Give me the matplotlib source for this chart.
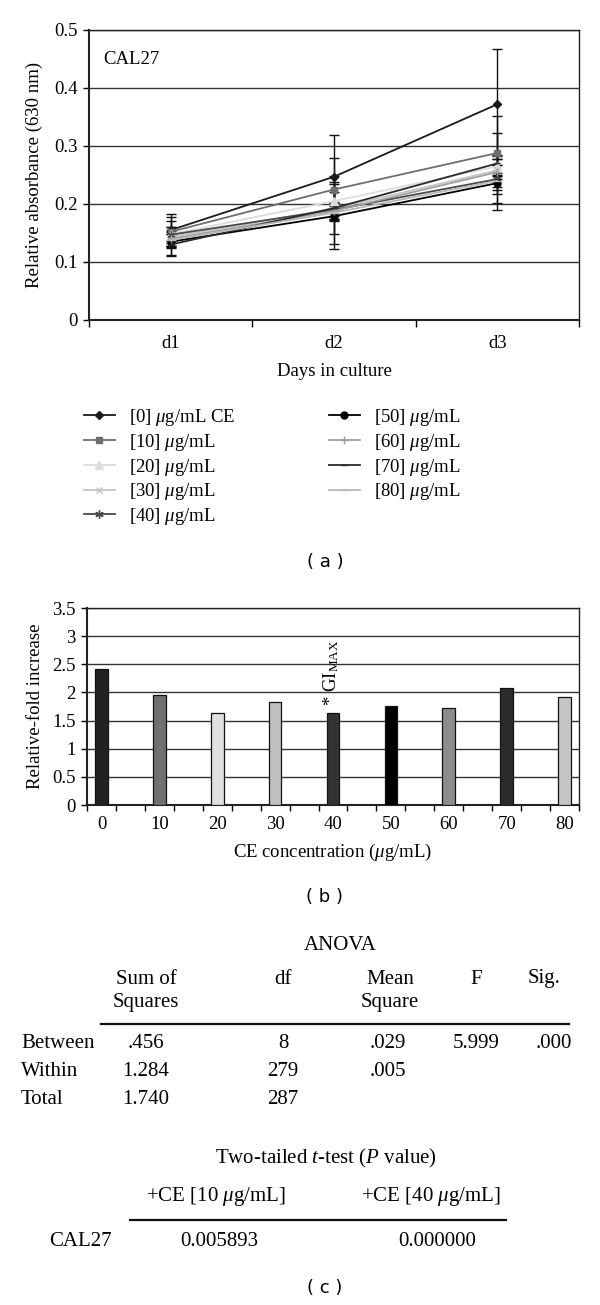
import matplotlib
matplotlib.use("Agg")
import matplotlib.pyplot as plt
from matplotlib.lines import Line2D
import numpy as np

plt.rcParams['font.family'] = ['Liberation Serif', 'DejaVu Serif']
plt.rcParams['mathtext.fontset'] = 'custom'
plt.rcParams['mathtext.rm'] = 'Liberation Serif'
plt.rcParams['mathtext.it'] = 'Liberation Serif:italic'

# Panel (a) data
days = ["d1", "d2", "d3"]
series_labels = ["[0] $\\mu$g/mL CE", "[10] $\\mu$g/mL", "[20] $\\mu$g/mL",
                 "[30] $\\mu$g/mL", "[40] $\\mu$g/mL", "[50] $\\mu$g/mL",
                 "[60] $\\mu$g/mL", "[70] $\\mu$g/mL", "[80] $\\mu$g/mL"]
abs_0 = [0.155, 0.247, 0.372]
abs_10 = [0.152, 0.225, 0.288]
abs_20 = [0.148, 0.205, 0.265]
abs_30 = [0.143, 0.192, 0.258]
abs_40 = [0.147, 0.190, 0.243]
abs_50 = [0.135, 0.179, 0.236]
abs_60 = [0.140, 0.188, 0.255]
abs_70 = [0.130, 0.193, 0.270]
abs_80 = [0.138, 0.185, 0.240]
err_0 = [0.027, 0.072, 0.095]
err_10 = [0.026, 0.054, 0.064]
err_20 = [0.012, 0.015, 0.012]
err_30 = [0.010, 0.012, 0.010]
err_40 = [0.023, 0.059, 0.042]
err_50 = [0.025, 0.056, 0.046]
err_60 = [0.012, 0.014, 0.012]
err_70 = [0.018, 0.045, 0.052]
err_80 = [0.010, 0.012, 0.010]

# Panel (b) data
concentrations = ["0", "10", "20", "30", "40", "50", "60", "70", "80"]
fold_increase = [2.42, 1.95, 1.64, 1.83, 1.63, 1.76, 1.72, 2.08, 1.91]

# Panel (c) data
anova_cols = ["Sum of\nSquares", "df", "Mean\nSquare", "F", "Sig."]
anova_rows = ["Between", "Within", "Total"]
anova_ss = [".456", "1.284", "1.740"]
anova_df = ["8", "279", "287"]
anova_ms = [".029", ".005", ""]
anova_f = ["5.999", "", ""]
anova_sig = [".000", "", ""]
ttest_cols = ["+CE [10 $\\mu$g/mL]", "+CE [40 $\\mu$g/mL]"]
ttest_row = "CAL27"
ttest_p = ["0.005893", "0.000000"]

W, H = 600, 1305
fig = plt.figure(figsize=(W / 100, H / 100), dpi=100)


def fx(px):
    return px / W


def fy(py):
    return 1 - py / H


# ---------- Panel (a) ----------
ax = fig.add_axes([fx(89), fy(320), fx(579) - fx(89), fy(30) - fy(320)])
series = [abs_0, abs_10, abs_20, abs_30, abs_40, abs_50, abs_60, abs_70, abs_80]
errs = [err_0, err_10, err_20, err_30, err_40, err_50, err_60, err_70, err_80]
colors = ["#1a1a1a", "#6e6e6e", "#dcdcdc", "#c4c4c4", "#4a4a4a",
          "#000000", "#a0a0a0", "#2a2a2a", "#b8b8b8"]
markers = ["D", "s", "^", "x", (6, 2, 0), "o", "+", "_", "_"]
msizes = [4, 5, 6, 5, 6, 5, 6, 5, 7]
x = np.arange(len(days))
handles = []
for vals, e, c, m, ms, lab in zip(series, errs, colors, markers, msizes, series_labels):
    ax.errorbar(x, vals, yerr=e, fmt="none", ecolor="#111111", elinewidth=1.0,
                capsize=3.5, capthick=1.0, zorder=2)
    h, = ax.plot(x, vals, color=c, marker=m, markersize=ms, lw=1.3,
                 markeredgecolor=c, label=lab, zorder=3)
    handles.append(h)

ax.set_xlim(-0.5, 2.5)
ax.set_ylim(0, 0.5)
ax.set_yticks([0, 0.1, 0.2, 0.3, 0.4, 0.5])
ax.set_yticklabels(["0", "0.1", "0.2", "0.3", "0.4", "0.5"])
ax.set_xticks(x)
ax.set_xticklabels(days)
ax.set_xticks([-0.5, 0.5, 1.5, 2.5], minor=True)
ax.tick_params(axis="x", which="major", length=0, pad=11, labelsize=13.5)
ax.tick_params(axis="x", which="minor", length=5, width=1, direction="out")
ax.tick_params(axis="y", length=4, width=1, labelsize=13.5, pad=4)
ax.yaxis.grid(True, color="#333333", lw=1)
ax.set_axisbelow(True)
for sp in ax.spines.values():
    sp.set_linewidth(1)
    sp.set_color("#222222")
ax.spines["left"].set_linewidth(1.5)
ax.spines["bottom"].set_linewidth(1.5)
ax.set_ylabel("Relative absorbance (630 nm)", fontsize=13.5, labelpad=8)
ax.set_xlabel("Days in culture", fontsize=13.5, labelpad=8)
ax.text(0.03, 0.9, "CAL27", transform=ax.transAxes, fontsize=13.5, va="center")

fig.legend(handles=handles, loc="upper left", ncol=2,
           bbox_to_anchor=(fx(84), fy(407)), bbox_transform=fig.transFigure,
           frameon=False, fontsize=13.5, handlelength=1.65, handletextpad=0.75,
           columnspacing=5.0, labelspacing=0.2, borderpad=0, borderaxespad=0)

fig.text(fx(325), fy(562), "( a )", fontsize=13, family="DejaVu Sans",
         ha="center", va="center")

# ---------- Panel (b) ----------
bx = fig.add_axes([fx(87), fy(805), fx(579) - fx(87), fy(608) - fy(805)])
bar_colors = ["#222222", "#707070", "#e0e0e0", "#c0c0c0", "#333333",
              "#000000", "#8c8c8c", "#2b2b2b", "#c4c4c4"]
xb = np.arange(len(concentrations))
bx.bar(xb, fold_increase, width=0.22, color=bar_colors, edgecolor="#111111",
       linewidth=0.9, zorder=3)
bx.set_xlim(-0.25, 8.25)
bx.set_ylim(0, 3.5)
yt = np.arange(0, 3.51, 0.5)
bx.set_yticks(yt)
bx.set_yticklabels(["0", "0.5", "1", "1.5", "2", "2.5", "3", "3.5"])
bx.set_xticks(xb)
bx.set_xticklabels(concentrations)
bx.set_xticks(np.arange(-0.25, 8.3, 0.5), minor=True)
bx.tick_params(axis="x", which="major", length=0, pad=8, labelsize=13.5)
bx.tick_params(axis="x", which="minor", length=4, width=1, direction="out")
bx.tick_params(axis="y", length=4, width=1, labelsize=13.5, pad=4)
bx.yaxis.grid(True, color="#333333", lw=1)
bx.set_axisbelow(True)
for sp in bx.spines.values():
    sp.set_linewidth(1)
    sp.set_color("#222222")
bx.spines["left"].set_linewidth(1.5)
bx.spines["bottom"].set_linewidth(1.5)
bx.set_ylabel("Relative-fold increase", fontsize=13.5, labelpad=6)
bx.set_xlabel("CE concentration ($\\mu$g/mL)", fontsize=13.5, labelpad=6)
bx.text(xb[4] - 0.03, fold_increase[4] + 0.12, "* GI$_{\\mathrm{MAX}}$",
        rotation=90, fontsize=13.5, ha="center", va="bottom", zorder=4)

fig.text(fx(325), fy(897), "( b )", fontsize=13, family="DejaVu Sans",
         ha="center", va="center")

# ---------- Panel (c): tables ----------
ts = 15
fig.text(fx(340), fy(945), "ANOVA", fontsize=ts, ha="center", va="center")
col_x = [146, 283, 390, 476, 544]
for cx, name in zip(col_x, anova_cols):
    for k, ln in enumerate(name.split("\n")):
        fig.text(fx(cx), fy(979 + 24 * k), ln, fontsize=ts, ha="center",
                 va="center")
fig.add_artist(Line2D([fx(101), fx(569)], [fy(1024), fy(1024)],
                      color="#111111", lw=1.6, transform=fig.transFigure))
row_y = [1043, 1071, 1100]
val_x = [146, 283, 388, 476, 554]
for r, (ry, rname) in enumerate(zip(row_y, anova_rows)):
    fig.text(fx(21), fy(ry), rname, fontsize=ts, ha="left", va="center")
    cells = [anova_ss[r], anova_df[r], anova_ms[r], anova_f[r], anova_sig[r]]
    for cx, val in zip(val_x, cells):
        if val:
            fig.text(fx(cx), fy(ry), val, fontsize=ts, ha="center", va="center")

fig.text(fx(326), fy(1158), "Two-tailed $t$-test ($P$ value)", fontsize=ts,
         ha="center", va="center")
t_x = [216, 431]
for cx, name in zip(t_x, ttest_cols):
    fig.text(fx(cx), fy(1197), name, fontsize=ts, ha="center", va="center")
fig.add_artist(Line2D([fx(130), fx(506)], [fy(1220), fy(1220)],
                      color="#111111", lw=1.6, transform=fig.transFigure))
fig.text(fx(80), fy(1242), ttest_row, fontsize=ts, ha="center", va="center")
for cx, val in zip([219, 437], ttest_p):
    fig.text(fx(cx), fy(1242), val, fontsize=ts, ha="center", va="center")

fig.text(fx(325), fy(1288), "( c )", fontsize=13, family="DejaVu Sans",
         ha="center", va="center")

fig.savefig("out.png", dpi=100)
